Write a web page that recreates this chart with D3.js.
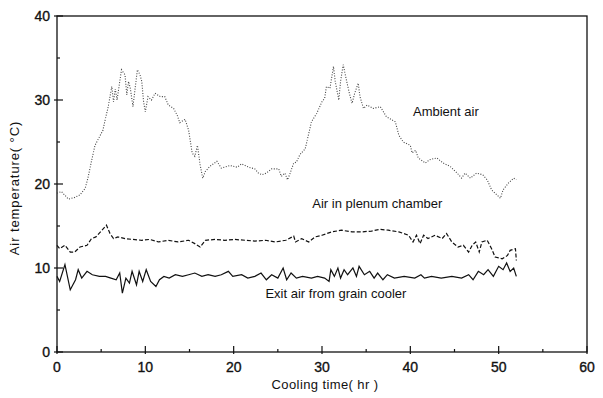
<!DOCTYPE html>
<html lang="en">
<head>
  <meta charset="UTF-8">
  <title>Air temperature during grain cooling</title>
  <script src="https://d3js.org/d3.v7.min.js"></script>
  <style>
    body { margin: 0; padding: 0; background: #fff; }
    svg text { font-family: Arial, "Liberation Sans", sans-serif; fill: #111; }
    .tick-label { font-size: 14px; stroke: #111; stroke-width: 0.35px; }
    .axis-title { font-size: 13px; }
    .series-label { font-size: 13px; }
  </style>
</head>
<body>
  <div id="chart"></div>
  <script>
    // ambient air: [hour, °C]
    const ambient = [
      [0,18.9],[0.5,19.1],[1.3,18.2],[2.0,18.4],[2.6,18.7],[3.2,19.5],[3.5,20.7],[3.9,22.7],
      [4.3,24.6],[4.9,25.8],[5.2,26.4],[5.4,27.4],[5.8,29.2],[6.2,31.6],[6.4,29.8],[6.6,31.3],
      [6.8,30.0],[7.3,33.6],[7.7,33.0],[7.9,30.6],[8.1,32.2],[8.3,31.4],[8.6,29.2],[8.8,31.0],
      [9.1,33.6],[9.4,33.0],[9.6,32.2],[9.8,29.8],[10.0,28.6],[10.3,30.4],[10.7,30.0],[11.1,30.8],
      [11.7,30.4],[12.2,30.4],[12.6,29.4],[13.2,29.0],[13.6,28.2],[13.9,27.3],[14.5,27.7],[14.9,26.4],
      [15.3,23.7],[15.6,23.3],[15.9,24.6],[16.2,22.3],[16.5,20.7],[16.8,21.5],[17.3,22.1],[18.1,22.7],
      [18.6,21.9],[19.6,22.2],[20.4,22.0],[20.9,22.4],[21.7,22.0],[22.4,21.8],[22.8,21.3],[23.2,21.1],
      [23.7,21.3],[24.3,21.8],[25.1,21.8],[25.4,20.9],[25.8,21.3],[26.1,20.5],[26.4,21.3],[26.8,22.5],
      [27.1,22.6],[27.5,23.5],[28.1,24.2],[28.5,26.0],[28.8,27.4],[29.4,28.4],[30.0,29.8],[30.3,30.2],
      [30.5,31.6],[30.9,31.4],[31.3,34.0],[31.5,32.2],[31.9,30.0],[32.1,32.2],[32.4,34.2],[32.8,32.2],
      [33.1,30.8],[33.4,29.6],[33.7,30.8],[34.1,32.0],[34.3,30.4],[34.7,29.0],[35.1,29.4],[35.8,29.0],
      [36.6,29.2],[37.3,28.0],[38.3,27.4],[38.7,25.8],[39.2,25.0],[40.0,24.6],[40.2,23.7],[40.6,24.0],
      [40.9,23.1],[41.7,22.5],[42.2,22.9],[43.0,23.1],[43.7,22.5],[44.5,22.1],[45.3,21.3],[45.8,20.7],
      [46.2,21.3],[46.8,20.7],[47.5,21.3],[48.2,21.1],[48.7,20.5],[49.2,19.3],[49.8,18.7],[50.2,18.3],
      [50.5,19.3],[51.1,20.1],[51.7,20.7],[52.0,20.5]
    ];

    // air in plenum chamber
    const plenum = [
      [0,12.7],[0.3,12.3],[0.9,12.7],[1.5,11.9],[2.0,11.9],[2.6,12.5],[3.4,12.7],[3.9,13.5],
      [4.4,13.7],[5.1,14.5],[5.6,15.1],[6.0,14.1],[6.4,13.5],[6.9,13.7],[7.7,13.5],[8.6,13.4],
      [9.6,13.3],[10.5,13.4],[11.5,13.1],[12.6,13.3],[13.7,13.1],[14.9,13.3],[15.6,12.9],[16.2,12.5],
      [16.8,13.3],[17.9,13.4],[19.0,13.3],[20.1,13.4],[21.3,13.3],[22.4,13.2],[23.6,13.3],[24.7,13.1],
      [25.9,13.3],[26.8,13.8],[27.0,13.1],[27.7,13.5],[28.5,13.1],[29.2,13.7],[30.0,13.9],[31.1,14.3],
      [32.2,14.5],[33.4,14.3],[34.5,14.3],[35.6,14.4],[36.6,14.6],[37.5,14.5],[38.7,14.3],[39.8,13.9],
      [40.3,13.1],[40.7,13.9],[41.1,12.9],[41.5,13.9],[42.0,13.5],[42.8,13.9],[43.6,13.5],[44.1,14.1],
      [44.7,13.1],[45.4,12.5],[46.0,12.7],[46.6,11.9],[47.0,12.7],[47.4,13.1],[47.8,11.9],[48.1,13.1],
      [48.7,13.3],[49.2,12.3],[49.6,11.3],[50.4,11.1],[51.0,11.5],[51.3,12.1],[51.9,12.3],[52.0,10.9]
    ];

    // exit air from grain cooler
    const exitAir = [
      [0,9.0],[0.3,8.4],[0.9,10.4],[1.5,7.4],[2.1,8.6],[2.4,9.8],[2.8,8.8],[3.4,9.6],[4.0,9.2],
      [4.8,9.0],[5.5,9.0],[6.1,8.8],[6.7,8.6],[7.1,9.4],[7.4,7.0],[7.8,8.8],[8.2,8.2],[8.5,9.6],
      [9.0,8.0],[9.3,9.6],[9.7,8.4],[10.1,9.8],[10.6,8.4],[11.2,7.8],[11.6,8.6],[12.1,9.0],[12.7,8.8],
      [13.4,9.2],[14.2,9.0],[14.9,9.2],[15.6,9.4],[16.4,9.0],[17.1,9.2],[17.9,9.0],[18.6,9.2],
      [19.4,9.6],[19.9,9.0],[20.9,9.2],[21.6,8.8],[22.4,9.0],[23.1,9.4],[23.7,8.6],[24.3,9.2],
      [25.0,8.8],[25.6,10.0],[26.0,8.6],[26.5,9.4],[27.1,8.8],[27.8,9.0],[28.8,8.8],[29.5,9.0],
      [30.3,8.8],[30.8,8.4],[31.0,9.8],[31.4,9.0],[31.8,10.0],[32.1,8.8],[32.5,9.8],[32.9,9.2],
      [33.5,10.0],[33.9,9.0],[34.2,10.2],[34.8,9.2],[35.4,9.6],[35.9,8.8],[36.3,9.4],[36.9,8.6],
      [37.4,9.2],[38.2,8.8],[39.3,9.0],[40.5,8.8],[41.2,9.2],[41.6,8.8],[42.4,9.0],[43.5,8.8],
      [44.7,9.0],[45.8,8.8],[46.6,9.2],[47.1,8.6],[47.7,9.6],[48.3,9.2],[48.8,9.8],[49.4,9.0],
      [50.0,10.2],[50.5,9.8],[50.9,10.6],[51.3,9.6],[51.7,10.0],[52.0,9.0]
    ];

    const xTicks = [0, 10, 20, 30, 40, 50, 60];
    const yTicks = [0, 10, 20, 30, 40];

    const width = 603, height = 398;
    const margin = { top: 16, right: 16, bottom: 46, left: 57 };

    const svg = d3.select("#chart").append("svg")
      .attr("width", width)
      .attr("height", height);

    const x = d3.scaleLinear().domain([0, 60]).range([margin.left, width - margin.right]);
    const y = d3.scaleLinear().domain([0, 40]).range([height - margin.bottom, margin.top]);

    // frame
    svg.append("rect")
      .attr("x", x(0)).attr("y", y(40))
      .attr("width", x(60) - x(0)).attr("height", y(0) - y(40))
      .attr("fill", "none").attr("stroke", "#111").attr("stroke-width", 1.3);

    // bottom axis: major ticks cross, minor ticks point inward
    const xAxis = svg.append("g").attr("transform", `translate(0,${y(0)})`);
    xAxis.selectAll("line")
      .data(d3.range(0, 61, 5))
      .join("line")
      .attr("x1", d => x(d)).attr("x2", d => x(d))
      .attr("y1", d => d % 10 === 0 ? 2 : 0)
      .attr("y2", d => d % 10 === 0 ? -6 : -3)
      .attr("stroke", "#111").attr("stroke-width", 1.2);
    xAxis.selectAll("text")
      .data(xTicks)
      .join("text")
      .attr("class", "tick-label")
      .attr("x", d => x(d)).attr("y", 20)
      .attr("text-anchor", "middle")
      .text(d => d);

    // left axis
    const yAxis = svg.append("g").attr("transform", `translate(${x(0)},0)`);
    yAxis.selectAll("line")
      .data(d3.range(0, 41, 5))
      .join("line")
      .attr("y1", d => y(d)).attr("y2", d => y(d))
      .attr("x1", d => d % 10 === 0 ? -3 : 0)
      .attr("x2", d => d % 10 === 0 ? 6 : 3)
      .attr("stroke", "#111").attr("stroke-width", 1.2);
    yAxis.selectAll("text")
      .data(yTicks)
      .join("text")
      .attr("class", "tick-label")
      .attr("x", -7).attr("y", d => y(d))
      .attr("dy", "0.35em")
      .attr("text-anchor", "end")
      .text(d => d);

    const line = d3.line().x(d => x(d[0])).y(d => y(d[1]));

    svg.append("path").datum(ambient)
      .attr("d", line).attr("fill", "none")
      .attr("stroke", "#444").attr("stroke-width", 1.1)
      .attr("stroke-dasharray", "1,1.6");

    svg.append("path").datum(plenum)
      .attr("d", line).attr("fill", "none")
      .attr("stroke", "#111").attr("stroke-width", 1.2)
      .attr("stroke-dasharray", "4,2");

    svg.append("path").datum(exitAir)
      .attr("d", line).attr("fill", "none")
      .attr("stroke", "#111").attr("stroke-width", 1.2);

    // series labels
    svg.append("text").attr("class", "series-label")
      .attr("x", x(40.3)).attr("y", y(28.1)).text("Ambient air");
    svg.append("text").attr("class", "series-label")
      .attr("x", x(28.9)).attr("y", y(17.2)).text("Air in plenum chamber");
    svg.append("text").attr("class", "series-label")
      .attr("x", x(23.6)).attr("y", y(6.4)).text("Exit air from grain cooler");

    // axis titles
    svg.append("text").attr("class", "axis-title")
      .attr("x", (x(0) + x(60)) / 2 + 3).attr("y", 389)
      .attr("text-anchor", "middle")
      .attr("letter-spacing", "0.4px")
      .text("Cooling  time( hr )");
    svg.append("text").attr("class", "axis-title")
      .attr("transform", `translate(19,${y(20) + 4}) rotate(-90)`)
      .attr("text-anchor", "middle")
      .attr("letter-spacing", "0.9px")
      .text("Air temperature( °C)");
  </script>
</body>
</html>
